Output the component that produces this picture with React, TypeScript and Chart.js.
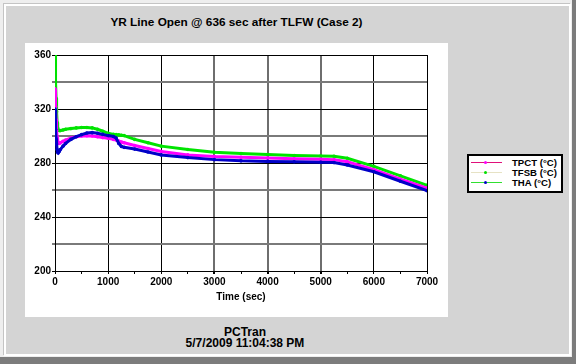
import React, { useEffect, useRef } from 'react';
import { Chart, registerables } from 'chart.js';

Chart.register(...registerables);

const TITLE = 'YR Line Open @ 636 sec after TLFW (Case 2)';
const X_TITLE = 'Time (sec)';
const FOOTER_LINES = ['PCTran', '5/7/2009 11:04:38 PM'];
const SERIES_NAMES = ['TPCT (°C)', 'TFSB (°C)', 'THA (°C)'];

const TIMES = [0, 10, 20, 30, 40, 50, 60, 80, 100, 150, 200, 300, 400, 500, 600, 700, 800, 900, 1000, 1100, 1150, 1200, 1250, 1300, 1500, 1750, 2000, 2500, 3000, 3500, 4000, 4500, 5000, 5250, 5500, 6000, 6500, 7000];
const TPCT = [335, 322, 312, 304, 299, 296, 294.5, 294.5, 295, 296, 297, 298.5, 299.5, 300, 300.2, 300, 299.5, 298.8, 298.3, 297.5, 297, 296.2, 295.5, 295, 293, 290.7, 288.5, 286, 284.8, 284.2, 283.7, 283.2, 282.8, 282.5, 281, 275, 268, 261.5];
const TFSB = [360, 340, 328, 318, 310, 306, 304.5, 304, 304, 304.5, 305, 305.5, 306, 306.3, 306.3, 306, 305, 303.5, 302, 301.2, 301, 300.8, 300.6, 300.3, 297.5, 295, 292.5, 290, 288, 287, 286.3, 285.6, 285.2, 285, 283.5, 277.5, 270.5, 263.5];
const THA = [320, 305, 298, 294, 290, 288, 287.5, 288.5, 290, 292.5, 294.5, 297.5, 299.5, 301, 302.2, 302.5, 302, 301.2, 300.3, 299.6, 298.5, 294.5, 292.3, 291.6, 290.3, 288.2, 286, 284, 282.5, 281.6, 281.2, 280.9, 280.6, 280.3, 278.5, 273.5, 266.5, 259.5];

const Y_LABELS = [200, 240, 280, 320, 360];
const X_LABELS = [0, 1000, 2000, 3000, 4000, 5000, 6000, 7000];

const SERIES_COLORS = ['#ff00ff', '#00e400', '#0000c8'];
const LEGEND_LINE_COLORS = ['#e0107a', '#e6e2c4', '#30e030'];
const LEGEND_DOT_COLORS = ['#ff00ff', '#00e000', '#0000c8'];

const FONT = '"Liberation Sans", Arial, sans-serif';

function ChartCanvas() {
  const ref = useRef<HTMLCanvasElement | null>(null);
  useEffect(() => {
    if (!ref.current) return;
    const mk = (label: string, vals: number[], color: string, order: number) => ({
      label,
      data: TIMES.map((t, i) => ({ x: t, y: vals[i] })),
      borderColor: color,
      backgroundColor: color,
      borderWidth: 3,
      pointRadius: 1.8,
      pointBorderWidth: 0,
      pointBackgroundColor: color,
      tension: 0,
      order,
    });
    const tickFont = { family: FONT, size: 10, weight: 'bold' as const };
    const chart = new Chart(ref.current, {
      type: 'line',
      data: {
        datasets: [
          mk(SERIES_NAMES[0], TPCT, SERIES_COLORS[0], 1),
          mk(SERIES_NAMES[1], TFSB, SERIES_COLORS[1], 2),
          mk(SERIES_NAMES[2], THA, SERIES_COLORS[2], 0),
        ],
      },
      options: {
        responsive: false,
        animation: false,
        layout: { padding: { top: 12, right: 21, left: 0, bottom: 0 } },
        plugins: {
          legend: { display: false },
          tooltip: { enabled: false },
          title: { display: false },
        },
        scales: {
          x: {
            type: 'linear',
            min: 0,
            max: 7000,
            afterFit: (s: any) => { s.height = 46; },
            ticks: {
              stepSize: 500,
              autoSkip: false,
              maxRotation: 0,
              padding: 2,
              color: '#000',
              font: tickFont,
              callback: (v: any) => (X_LABELS.includes(Number(v)) ? String(v) : ''),
            },
            grid: {
              color: (ctx: any) => {
                const v = ctx.tick ? ctx.tick.value : 0;
                if (v % 1000 !== 0) return 'rgba(0,0,0,0)';
                if (v === 3000 || v === 4000 || v === 5000) return '#6e6e6e';
                return '#000';
              },
              lineWidth: (ctx: any) => {
                const v = ctx.tick ? ctx.tick.value : 0;
                return v === 3000 || v === 4000 || v === 5000 ? 2 : 1;
              },
              tickColor: '#000',
              tickLength: 3,
            },
            border: { color: '#000', width: 1 },
            title: {
              display: true,
              text: X_TITLE,
              color: '#000',
              font: { family: FONT, size: 10, weight: 'bold' },
              padding: { top: 0, bottom: 14 },
            },
          },
          y: {
            min: 200,
            max: 360,
            afterFit: (s: any) => { s.width = 30; },
            ticks: {
              stepSize: 20,
              autoSkip: false,
              padding: 1,
              color: '#000',
              font: tickFont,
              callback: (v: any) => (Y_LABELS.includes(Number(v)) ? String(v) : ''),
            },
            grid: {
              color: (ctx: any) => {
                const v = ctx.tick ? ctx.tick.value : 0;
                return v % 40 === 0 ? '#000' : '#7a7a7a';
              },
              lineWidth: (ctx: any) => {
                const v = ctx.tick ? ctx.tick.value : 0;
                return v % 40 === 0 ? 1 : 2;
              },
              tickLength: 3,
            },
            border: { color: '#000', width: 1 },
          },
        },
      },
    });
    return () => chart.destroy();
  }, []);
  return (
    <canvas
      ref={ref}
      width={423}
      height={274}
      style={{ position: 'absolute', left: 25, top: 43, width: 423, height: 274, background: '#fff' }}
    />
  );
}

function Legend() {
  const rows = [163, 173, 183];
  return (
    <div
      style={{
        position: 'absolute',
        left: 467,
        top: 154,
        width: 96,
        height: 39,
        boxSizing: 'border-box',
        border: '2px solid #000',
        background: '#fff',
      }}
    >
      {SERIES_NAMES.map((name, i) => (
        <div key={name} style={{ position: 'absolute', left: 0, top: rows[i] - 154 - 2 - 6, width: 92, height: 12 }}>
          <div style={{ position: 'absolute', left: 2, top: 5, width: 31, height: 1, background: LEGEND_LINE_COLORS[i] }} />
          <div
            style={{
              position: 'absolute',
              left: 15,
              top: 4,
              width: 3,
              height: 3,
              borderRadius: 2,
              background: LEGEND_DOT_COLORS[i],
            }}
          />
          <div
            style={{
              position: 'absolute',
              left: 43,
              top: 0,
              lineHeight: '12px',
              fontFamily: FONT,
              fontWeight: 'bold',
              fontSize: 9.6,
              color: '#000',
              whiteSpace: 'nowrap',
            }}
          >
            {name}
          </div>
        </div>
      ))}
    </div>
  );
}

export default function App() {
  return (
    <div
      style={{
        position: 'absolute',
        left: 0,
        top: 0,
        width: 576,
        height: 364,
        background: '#7c7c7c',
        overflow: 'hidden',
        fontFamily: FONT,
      }}
    >
      <div style={{ position: 'absolute', left: 0, top: 0, width: 572, height: 357, background: '#eeeeee' }} />
      <div style={{ position: 'absolute', left: 3, top: 3, width: 1, height: 352, background: '#c4c4c4' }} />
      <div style={{ position: 'absolute', left: 3, top: 3, width: 567, height: 1, background: '#c4c4c4' }} />
      <div style={{ position: 'absolute', left: 4, top: 4, width: 567, height: 352, background: '#ffffff' }} />
      <div style={{ position: 'absolute', left: 6, top: 6, width: 563, height: 348, background: '#d4d4d4' }} />
      <div
        style={{
          position: 'absolute',
          left: 25,
          top: 15,
          width: 423,
          textAlign: 'center',
          fontSize: 11.8,
          lineHeight: '14px',
          fontWeight: 'bold',
          color: '#000',
          whiteSpace: 'nowrap',
        }}
      >
        {TITLE}
      </div>
      <ChartCanvas />
      <Legend />
      <div
        style={{
          position: 'absolute',
          left: 145,
          top: 327,
          width: 200,
          textAlign: 'center',
          fontSize: 12,
          lineHeight: '11px',
          fontWeight: 'bold',
          color: '#000',
          whiteSpace: 'nowrap',
        }}
      >
        {FOOTER_LINES.map((l) => (
          <div key={l}>{l}</div>
        ))}
      </div>
    </div>
  );
}
